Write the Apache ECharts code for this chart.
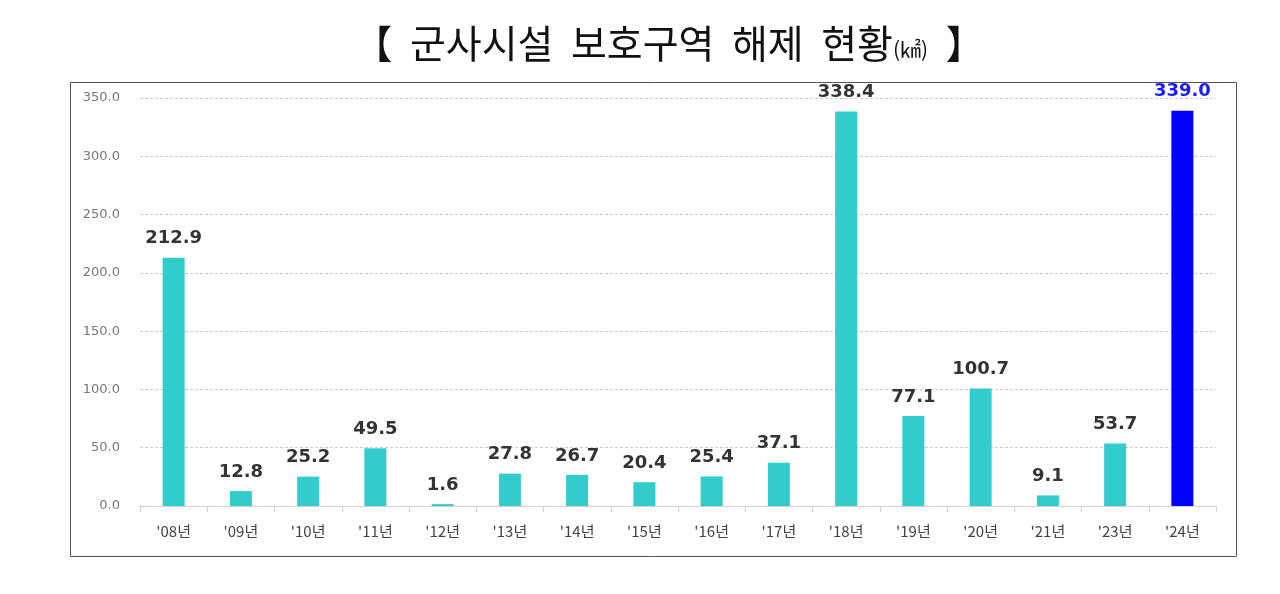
<!DOCTYPE html>
<html><head><meta charset="utf-8">
<script src="https://cdn.jsdelivr.net/npm/echarts@6/dist/echarts.min.js"></script>
<style>html,body{margin:0;padding:0;background:#fff}#c{width:1280px;height:594px}</style>
</head><body><div id="c"></div>
<script>
const categories = ["'08년","'09년","'10년","'11년","'12년","'13년","'14년","'15년","'16년","'17년","'18년","'19년","'20년","'21년","'23년","'24년"];
const values = [212.9,12.8,25.2,49.5,1.6,27.8,26.7,20.4,25.4,37.1,338.4,77.1,100.7,9.1,53.7,339.0];
const highlightIndex = 15;

const chart = echarts.init(document.getElementById('c'));
const data = values.map((v,i)=> i===highlightIndex ? {
  value:v, itemStyle:{color:'#0000ff'}, label:{color:'#1a1aff'}
} : v);
chart.setOption({
  animation:false,
  title:{
    text:'【  군사시설  보호구역  해제  현황{u|(㎢)}  】',
    left:664, top:19, textAlign:'center',
    textStyle:{fontFamily:'Noto Sans CJK KR',fontSize:39,fontWeight:'normal',color:'#111',
      rich:{u:{fontFamily:'Noto Sans CJK KR',fontSize:21,color:'#111',padding:[12,0,0,0]}}}
  },
  graphic:[{type:'rect',shape:{x:70.5,y:82.5,width:1166,height:474},style:{fill:'none',stroke:'#555',lineWidth:1},silent:true}],
  grid:{left:140,right:64,top:98,bottom:88,containLabel:false},
  xAxis:{type:'category',data:categories,
    axisLine:{lineStyle:{color:'#d0d0d0'}},
    axisTick:{show:true,lineStyle:{color:'#d0d0d0'},length:6},
    axisLabel:{color:'#444',fontSize:15,margin:18,fontFamily:'Noto Sans CJK KR'}},
  yAxis:{type:'value',min:0,max:350,interval:50,
    axisLine:{show:false},axisTick:{show:false},
    axisLabel:{color:'#777',fontSize:13,margin:20,formatter:v=>v.toFixed(1),fontFamily:'DejaVu Sans'},
    splitLine:{lineStyle:{color:'#ccc',type:[3,2]}}},
  series:[{type:'bar',data:data,barWidth:22,
    itemStyle:{color:'#33cccc'},
    label:{show:true,position:'top',distance:10,formatter:p=>p.value.toFixed(1),
      fontFamily:'DejaVu Sans',fontWeight:'bold',fontSize:18,color:'#333'}}]
});
</script></body></html>
